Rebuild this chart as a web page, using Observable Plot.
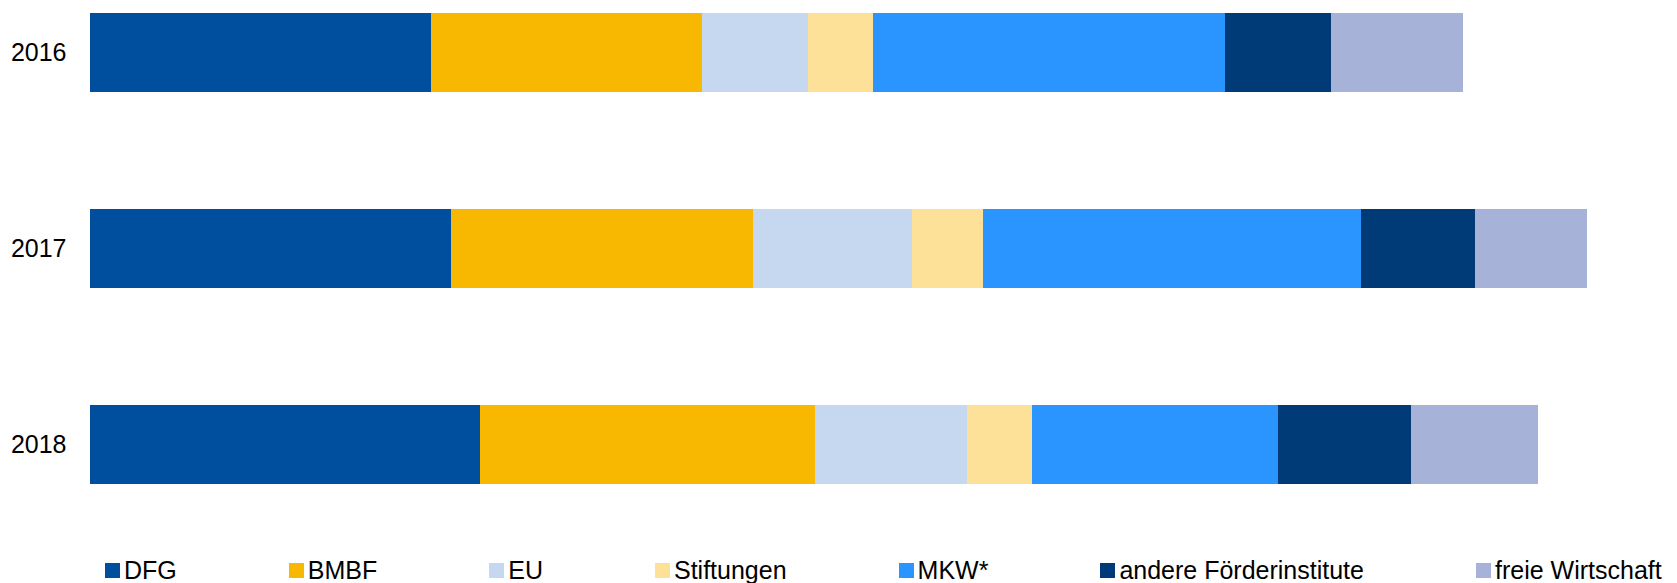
<!DOCTYPE html>
<html>
<head>
<meta charset="utf-8">
<script src="https://cdn.jsdelivr.net/npm/d3@7"></script>
<script src="https://cdn.jsdelivr.net/npm/@observablehq/plot@0.6"></script>
<style>
  html, body { margin: 0; padding: 0; background: #fff; overflow: hidden; }
  body { width: 1677px; height: 583px; position: relative; font-family: "Liberation Sans", Arial, sans-serif; }
  #chart svg { display: block; }
  #legend { position: absolute; top: 557.5px; left: 105px; display: flex; align-items: center;
            font-size: 25px; line-height: 25px; color: #000; white-space: nowrap; }
  #legend .item { display: flex; align-items: center; margin-right: 112px; }
  #legend .sw { width: 15px; height: 15px; margin-right: 4px; flex: none; }
</style>
</head>
<body>
<div id="chart"></div>
<div id="legend"></div>
<script>
const years = ["2016", "2017", "2018"];
const sources = ["DFG", "BMBF", "EU", "Stiftungen", "MKW*", "andere Förderinstitute", "freie Wirtschaft"];
const colors = ["#004f9f", "#f8b700", "#c6d8f0", "#fde198", "#2b95ff", "#003b77", "#a6b2d7"];
const values2016 = [34.1, 27.1, 10.6, 6.5, 35.2, 10.6, 13.2];
const values2017 = [36.1, 30.2, 15.9, 7.1, 37.8, 11.4, 11.2];
const values2018 = [39.0, 33.5, 15.2, 6.5, 24.6, 13.3, 12.7];

const series = [values2016, values2017, values2018];
const data = [];
years.forEach((year, i) => {
  sources.forEach((source, j) => {
    data.push({year, source, value: series[i][j]});
  });
});

const chart = Plot.plot({
  width: 1677,
  height: 540,
  marginLeft: 90,
  marginRight: 87,
  marginTop: 12.8,
  marginBottom: 56.2,
  style: {fontFamily: '"Liberation Sans", Arial, sans-serif', color: "#000", background: "#fff"},
  x: {domain: [0, 150], axis: null},
  y: {domain: years, paddingInner: 0.597, paddingOuter: 0, axis: null},
  color: {domain: sources, range: colors},
  marks: [
    Plot.barX(data, Plot.stackX({x: "value", y: "year", fill: "source", order: null})),
    Plot.axisY({tickSize: 0, tickPadding: 24, fontSize: 25, label: null})
  ]
});
document.getElementById("chart").appendChild(chart);

const legend = document.getElementById("legend");
sources.forEach((s, i) => {
  const item = document.createElement("div");
  item.className = "item";
  const sw = document.createElement("span");
  sw.className = "sw";
  sw.style.background = colors[i];
  const label = document.createElement("span");
  label.textContent = s;
  item.appendChild(sw);
  item.appendChild(label);
  legend.appendChild(item);
});
</script>
</body>
</html>
